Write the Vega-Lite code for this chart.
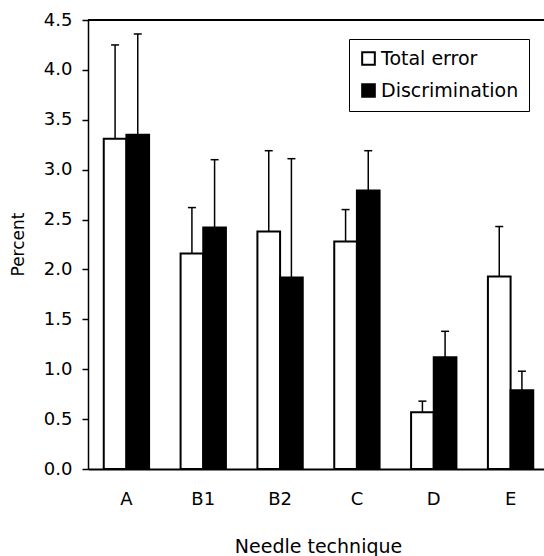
{
  "$schema": "https://vega.github.io/schema/vega-lite/v6.json",
  "autosize": "none",
  "padding": {"left": 88, "top": 20, "right": 0, "bottom": 87},
  "width": 461,
  "height": 449,
  "background": "white",
  "config": {
    "view": {"stroke": null},
    "font": "DejaVu Sans",
    "axis": {"labelFont": "DejaVu Sans", "titleFont": "DejaVu Sans", "labelColor": "black", "titleColor": "black", "titleFontWeight": "normal", "domainColor": "black", "tickColor": "black", "grid": false}
  },
  "data": {
    "values": [
      {"tech": "A", "series": "Total error", "value": 3.31, "upper": 4.25},
      {"tech": "A", "series": "Discrimination", "value": 3.35, "upper": 4.36},
      {"tech": "B1", "series": "Total error", "value": 2.16, "upper": 2.62},
      {"tech": "B1", "series": "Discrimination", "value": 2.42, "upper": 3.10},
      {"tech": "B2", "series": "Total error", "value": 2.38, "upper": 3.19},
      {"tech": "B2", "series": "Discrimination", "value": 1.92, "upper": 3.11},
      {"tech": "C", "series": "Total error", "value": 2.28, "upper": 2.60},
      {"tech": "C", "series": "Discrimination", "value": 2.79, "upper": 3.19},
      {"tech": "D", "series": "Total error", "value": 0.57, "upper": 0.68},
      {"tech": "D", "series": "Discrimination", "value": 1.12, "upper": 1.38},
      {"tech": "E", "series": "Total error", "value": 1.93, "upper": 2.43},
      {"tech": "E", "series": "Discrimination", "value": 0.79, "upper": 0.98}
    ]
  },
  "layer": [
    {
      "mark": {"type": "bar", "stroke": "black", "strokeWidth": 2},
      "encoding": {
        "x": {
          "field": "tech", "type": "nominal", "sort": ["A", "B1", "B2", "C", "D", "E"],
          "scale": {"paddingInner": 0.41, "paddingOuter": 0.205},
          "axis": {"title": "Needle technique", "labelAngle": 0, "labelFontSize": 18, "labelPadding": 21, "ticks": false, "domainWidth": 2, "titleFontSize": 19, "titleX": 230, "titleY": 77, "titleBaseline": "middle", "titleAnchor": "middle"}
        },
        "xOffset": {"field": "series", "type": "nominal", "sort": ["Total error", "Discrimination"]},
        "y": {
          "field": "value", "type": "quantitative",
          "scale": {"domain": [0, 4.5], "nice": false},
          "axis": {"title": "Percent", "tickCount": 9, "format": ".1f", "labelFontSize": 18, "labelPadding": 10, "tickSize": 6, "tickWidth": 1.5, "domainWidth": 1.5, "titleFontSize": 17, "titleX": -70, "titleY": 224, "titleAngle": -90, "titleBaseline": "middle", "titleAnchor": "middle"}
        },
        "fill": {
          "field": "series", "type": "nominal",
          "scale": {"domain": ["Total error", "Discrimination"], "range": ["white", "black"]},
          "legend": {"title": null, "orient": "none", "legendX": 261, "legendY": 19, "direction": "vertical", "symbolType": "square", "symbolSize": 160, "symbolStrokeColor": "black", "symbolStrokeWidth": 2, "labelFontSize": 19, "labelFont": "DejaVu Sans", "labelColor": "black", "labelOffset": 3, "rowPadding": 11, "padding": 10, "strokeColor": "black", "fillColor": "white"}
        }
      }
    },
    {
      "mark": {"type": "rule", "stroke": "black", "strokeWidth": 1.5},
      "encoding": {
        "x": {"field": "tech", "type": "nominal", "sort": ["A", "B1", "B2", "C", "D", "E"]},
        "xOffset": {"field": "series", "type": "nominal", "sort": ["Total error", "Discrimination"]},
        "y": {"field": "value", "type": "quantitative"},
        "y2": {"field": "upper"}
      }
    },
    {
      "mark": {"type": "point", "shape": "stroke", "stroke": "black", "strokeWidth": 1.5, "size": 64, "opacity": 1},
      "encoding": {
        "x": {"field": "tech", "type": "nominal", "sort": ["A", "B1", "B2", "C", "D", "E"]},
        "xOffset": {"field": "series", "type": "nominal", "sort": ["Total error", "Discrimination"]},
        "y": {"field": "upper", "type": "quantitative"}
      }
    },
    {
      "data": {"values": [{"top": 4.5}]},
      "mark": {"type": "rule", "stroke": "black", "strokeWidth": 2},
      "encoding": {"y": {"field": "top", "type": "quantitative"}}
    }
  ]
}
